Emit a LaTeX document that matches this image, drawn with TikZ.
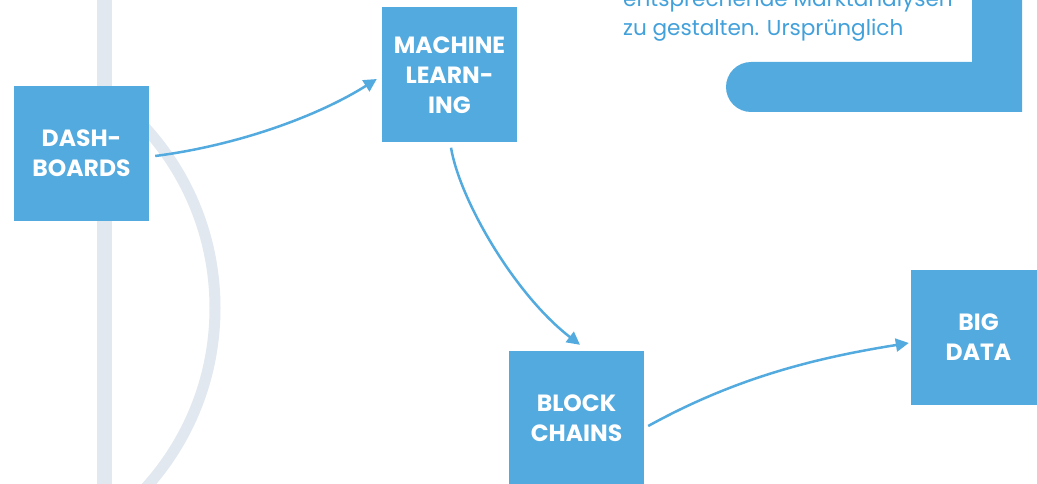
\documentclass[tikz,border=0pt]{standalone}
\usepackage{fontspec}
\newfontfamily\pop{Poppins}
\usetikzlibrary{arrows.meta,calc}
\definecolor{boxblue}{RGB}{82,170,223}
\definecolor{txtblue}{RGB}{66,160,218}
\definecolor{lightgray}{RGB}{225,232,239}
\tikzset{
  tile/.style={fill=boxblue, draw=none, minimum width=135pt, minimum height=135pt, inner sep=0pt,
    text=white, align=center, font=\pop\bfseries\fontsize{23.5pt}{30pt}\selectfont},
  para/.style={anchor=base west, inner sep=0pt, text=txtblue, font=\pop\fontsize{21.6pt}{29pt}\selectfont},
  arr/.style={draw=boxblue, line width=2.5pt, -{Triangle[length=13pt,width=13pt]}},
  bgline/.style={draw=lightgray}
}
\begin{document}
\begin{tikzpicture}[x=1pt,y=-1pt]
\useasboundingbox (0,0) rectangle (1037,484);
\clip (0,0) rectangle (1037,484);
% background decorations
\draw[bgline, line width=15pt] (104.5,-10) -- (104.5,494);
\begin{scope}
  \clip (104.5,0) rectangle (1037,484);
  \draw[bgline, line width=11pt] (-53,308) circle[radius=268];
\end{scope}
% blue L shape top right
\fill[boxblue] (1022,-10) -- (1022,112) -- (751,112) arc[start angle=90, end angle=270, radius=25] -- (972,62) -- (972,-10) -- cycle;
% paragraph text
\node[para] (p1) at (623,6.7) {entsprechende Marktanalysen};
\node[para] (p2) at (623,35.7) {zu gestalten. Ursprünglich};
% boxes
\node[tile] (dash) at (81.5,153.5) {DASH-\\BOARDS};
\node[tile] (ml) at (449.5,75) {MACHINE\\LEARN-\\ING};
\node[tile] (bc) at (576.5,418.5) {BLOCK\\CHAINS};
\node[tile] (bd) at (978.5,337.5) {BIG\\DATA};
% connectors
\draw[arr] ($(dash.east)+(6,2.5)$) .. controls +(85,-11) and +(-57,36) .. ($(ml.west)+(-5,4)$);
\draw[arr] ($(ml.south)+(1.5,5)$) .. controls +(9,53) and +(-65,-50) .. ($(bc.north)+(3.5,-6)$);
\draw[arr] ($(bc.east)+(4,7.5)$) .. controls +(87,-48) and +(-94,15) .. ($(bd.west)+(-2,5.5)$);
\end{tikzpicture}
\end{document}
